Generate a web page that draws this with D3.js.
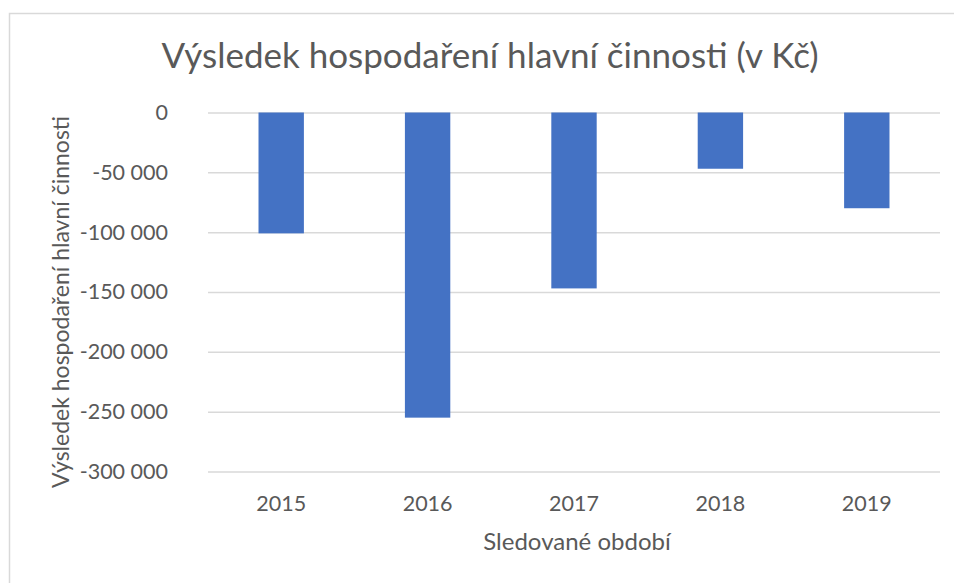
<!DOCTYPE html>
<html lang="cs">
<head>
<meta charset="utf-8">
<title>Výsledek hospodaření</title>
<script src="https://cdn.jsdelivr.net/npm/d3@7/dist/d3.min.js"></script>
<style>
  body { margin: 0; background: #fff; }
  svg text { font-family: Lato, "Noto Sans", sans-serif; fill: #595959; }
</style>
</head>
<body>
<svg width="954" height="583"></svg>
<script>
// data
const roky = ["2015", "2016", "2017", "2018", "2019"];
const vysledek = [-101000, -255000, -147000, -47000, -80000];
const yTicks = [0, -50000, -100000, -150000, -200000, -250000, -300000];

const svg = d3.select("svg");

// ramecek grafu (jen horni a levy okraj je videt)
svg.append("rect")
  .attr("x", 9.5).attr("y", 13.5)
  .attr("width", 1000).attr("height", 600)
  .attr("fill", "none")
  .attr("stroke", "#d9d9d9")
  .attr("stroke-width", 1.5);

const plotL = 208, plotR = 940, plotT = 112.5, plotB = 471.5;

const x = d3.scaleBand()
  .domain(roky)
  .range([plotL, plotR])
  .paddingInner(0.69)
  .paddingOuter(0.345);

const y = d3.scaleLinear()
  .domain([-300000, 0])
  .range([plotB, plotT]);

const cz = d3.formatLocale({decimal: ",", thousands: " ", grouping: [3], currency: ["", " Kč"], minus: "-"});
const fmt = cz.format(",d");

// osa y + mrizka
const gy = svg.append("g")
  .attr("transform", "translate(" + plotL + ",0)")
  .call(d3.axisLeft(y).tickValues(yTicks).tickFormat(fmt)
    .tickSizeInner(-(plotR - plotL)).tickSizeOuter(0).tickPadding(40));
gy.select(".domain").remove();
gy.selectAll(".tick line").attr("stroke", "#d9d9d9").attr("stroke-width", 1.5);
gy.selectAll(".tick text").style("font-size", "21.5px").attr("fill", "#595959");

// sloupce
svg.append("g")
  .selectAll("rect")
  .data(vysledek)
  .enter()
  .append("rect")
    .attr("x", function(d, i) { return x(roky[i]); })
    .attr("y", function(d) { return y(Math.max(0, d)); })
    .attr("width", x.bandwidth())
    .attr("height", function(d) { return Math.abs(y(d) - y(0)); })
    .attr("fill", "#4472c4");

// osa x
const gx = svg.append("g")
  .attr("transform", "translate(0," + plotB + ")")
  .call(d3.axisBottom(x).tickSize(0).tickPadding(0));
gx.select(".domain").remove();
gx.selectAll(".tick text")
  .attr("y", 39).attr("dy", null)
  .style("font-size", "21.5px").attr("fill", "#595959");

// popisky
svg.append("text")
  .attr("x", 490).attr("y", 68)
  .attr("text-anchor", "middle")
  .style("font-size", "35px")
  .text("Výsledek hospodaření hlavní činnosti (v Kč)");

svg.append("text")
  .attr("transform", "translate(69,302) rotate(-90)")
  .attr("text-anchor", "middle")
  .style("font-size", "23px")
  .text("Výsledek hospodaření hlavní činnosti");

svg.append("text")
  .attr("x", 577).attr("y", 550)
  .attr("text-anchor", "middle")
  .style("font-size", "24px")
  .text("Sledované období");
</script>
</body>
</html>
